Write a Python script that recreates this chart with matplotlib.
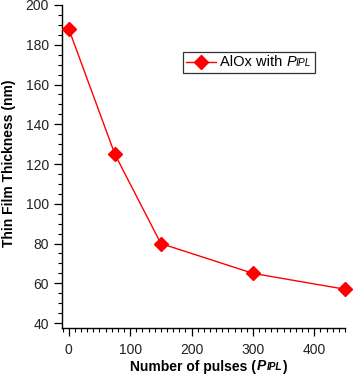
import matplotlib
matplotlib.use('Agg')
import matplotlib.pyplot as plt
from matplotlib.offsetbox import TextArea, HPacker, DrawingArea, AnchoredOffsetbox
from matplotlib.lines import Line2D
from matplotlib.ticker import MultipleLocator

# ---- data ----
pulses = [0, 75, 150, 300, 450]
thickness = [188, 125, 80, 65, 57]
series_label = "AlOx with"
symbol_main = "P"
symbol_sub = "IPL"
x_label_start = "Number of pulses ("
x_label_end = ")"
y_label = "Thin Film Thickness (nm)"

plt.rcParams['font.family'] = ['Liberation Sans', 'DejaVu Sans']

W, H = 354, 376
fig = plt.figure(figsize=(W / 100, H / 100), dpi=100)
ax = fig.add_axes([62 / W, 1 - 328 / H, (345 - 62) / W, (328 - 5) / H])

ax.plot(pulses, thickness, color='#ff0000', lw=1.0, marker='D', ms=6.8,
        mec='#ff0000', mfc='#ff0000', clip_on=False, zorder=3)

ax.set_xlim(-11, 450)
ax.set_ylim(37.5, 200)
for s in ['top', 'right']:
    ax.spines[s].set_visible(False)
for s in ['left', 'bottom']:
    ax.spines[s].set_linewidth(1.0)

ax.xaxis.set_major_locator(MultipleLocator(100))
ax.xaxis.set_minor_locator(MultipleLocator(10))
ax.yaxis.set_major_locator(MultipleLocator(20))
ax.yaxis.set_minor_locator(MultipleLocator(5))
ax.tick_params(which='major', length=6, width=0.9, direction='out', labelsize=10,
               colors='black')
ax.tick_params(which='minor', length=3, width=0.8, direction='out')
ax.tick_params(axis='x', which='major', pad=5.0)
ax.tick_params(axis='y', which='major', pad=3.5)
for lab in ax.get_xticklabels() + ax.get_yticklabels():
    lab.set_color('#222222')

# y label
fig.text(9.5 / W, 1 - 163 / H, y_label, rotation=90, ha='center', va='center',
         fontsize=10, fontweight='bold')

# x label built with baseline-aligned pieces
xl_parts = [
    TextArea(x_label_start, textprops=dict(fontsize=10, fontweight='bold')),
    TextArea(symbol_main, textprops=dict(fontsize=10, fontweight='bold', style='italic')),
    TextArea(symbol_sub, textprops=dict(fontsize=7.2, fontweight='bold', style='italic')),
    TextArea(x_label_end, textprops=dict(fontsize=10, fontweight='bold')),
]
xl_box = HPacker(children=xl_parts, align='baseline', pad=0, sep=0.5)
xl_anchor = AnchoredOffsetbox(loc='center', child=xl_box, pad=0, borderpad=0,
                              frameon=False,
                              bbox_to_anchor=(208.5 / W, 1 - 366.5 / H),
                              bbox_transform=fig.transFigure)
fig.add_artist(xl_anchor)

# legend built with offset boxes
da = DrawingArea(21, 10, 0, 0)
da.add_artist(Line2D([0, 21], [5, 5], color='#ff0000', lw=1.0))
da.add_artist(Line2D([10.5], [5], color='#ff0000', marker='D', ms=7.0,
                     mec='#ff0000', mfc='#ff0000'))
leg_text = HPacker(children=[
    TextArea(series_label + " ", textprops=dict(fontsize=10.5)),
    TextArea(symbol_main, textprops=dict(fontsize=10.5, style='italic')),
    TextArea(symbol_sub, textprops=dict(fontsize=7.4, style='italic')),
], align='baseline', pad=0, sep=0)
leg_inner = HPacker(children=[da, leg_text], align='center', pad=0, sep=3)
leg = AnchoredOffsetbox(loc='upper left', child=leg_inner, pad=0.25, borderpad=0,
                        frameon=True,
                        bbox_to_anchor=(183 / W, 1 - 52 / H),
                        bbox_transform=fig.transFigure)
leg.patch.set_edgecolor('#333333')
leg.patch.set_linewidth(0.9)
leg.patch.set_boxstyle('square', pad=0)
fig.add_artist(leg)

fig.savefig('out.png', dpi=100)
